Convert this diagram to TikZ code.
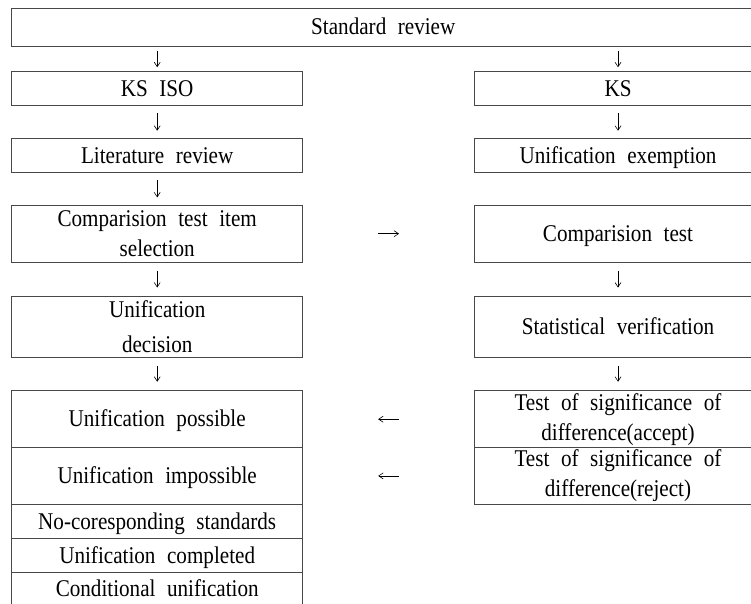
\documentclass[tikz,border=0pt]{standalone}
\usepackage{fontspec}
\setmainfont{Liberation Serif}[WordSpace=2.2, FakeStretch=0.88]
\usepackage{xcolor}
\usepackage{tikz}
\usetikzlibrary{positioning,arrows.meta}
\definecolor{reviewLine}{HTML}{484848}

\begin{document}
\begin{tikzpicture}[x=1pt, y=-1pt, every node/.style={rectangle, draw=reviewLine, line width=0.9pt, fill=white, text=black, align=center, inner sep=0pt, font=\fontsize{24}{30}\selectfont}, oneline/.style={text height=20pt, text depth=4.5pt}, leftbox/.style={minimum width=291pt}, rightbox/.style={minimum width=287pt}, flow/.style={-{Straight Barb[length=4.5pt,width=6pt]}, line width=0.6pt, black, shorten <=#1, shorten >=#1}]
\useasboundingbox (0,0) rectangle (751,604);
\clip (0,0) rectangle (751,604);

\node (review) [oneline, minimum width=743.3pt, minimum height=38.3pt] at (383.3,27.2) {Standard review};

% left column: KS ISO
\node (ksiso) [leftbox, oneline, minimum height=33.6pt] at (157.2,88.5) {KS ISO};
\node (literature) [leftbox, oneline, minimum height=33.6pt] at (157.2,155.5) {Literature review};
\node (itemsel) [leftbox, minimum height=56.7pt] at (157.2,233.7) {Comparision test item\\selection};
\node (decision) [leftbox, minimum height=61pt, font=\fontsize{24}{35}\selectfont] at (157.2,326.5) {Unification\\decision};
\node (possible) [leftbox, oneline, minimum height=57pt] at (157.2,419.2) {Unification possible};
\node (impossible) [leftbox, oneline, minimum height=56.3pt] at (157.2,475.9) {Unification impossible};
\node (nocorr) [leftbox, oneline, minimum height=34.7pt] at (157.2,521.4) {No-coresponding standards};
\node (completed) [leftbox, oneline, minimum height=33.3pt] at (157.2,555.4) {Unification completed};
\node (conditional) [leftbox, oneline, minimum height=34pt] at (157.2,589) {Conditional unification};

% right column: KS
\node (ks) [rightbox, oneline, minimum height=33.6pt] at (618,88.5) {KS};
\node (exemption) [rightbox, oneline, minimum height=33.6pt] at (618,155.5) {Unification exemption};
\node (comptest) [rightbox, oneline, minimum height=56.7pt] at (618,233.7) {Comparision test};
\node (verify) [rightbox, oneline, minimum height=61pt] at (618,326.5) {Statistical verification};
\node (accept) [rightbox, minimum height=57pt] at (618,419.2) {Test of significance of\\difference(accept)};
\node (reject) [rightbox, minimum height=56.3pt] at (618,475.9) {Test of significance of\\difference(reject)};

\draw[flow=4pt] (review.south -| ksiso) -- (ksiso);
\draw[flow=4pt] (review.south -| ks) -- (ks);
\draw[flow=7.5pt] (ksiso) -- (literature);
\draw[flow=7.5pt] (literature) -- (itemsel);
\draw[flow=8pt] (itemsel) -- (decision);
\draw[flow=8.5pt] (decision) -- (possible);
\draw[flow=7.5pt] (ks) -- (exemption);
\draw[flow=8pt] (comptest) -- (verify);
\draw[flow=8.5pt] (verify) -- (accept);

\draw[flow=75pt] (itemsel) -- (comptest);
\draw[flow=75pt] (accept) -- (possible);
\draw[flow=75pt] (reject) -- (impossible);
\end{tikzpicture}
\end{document}
